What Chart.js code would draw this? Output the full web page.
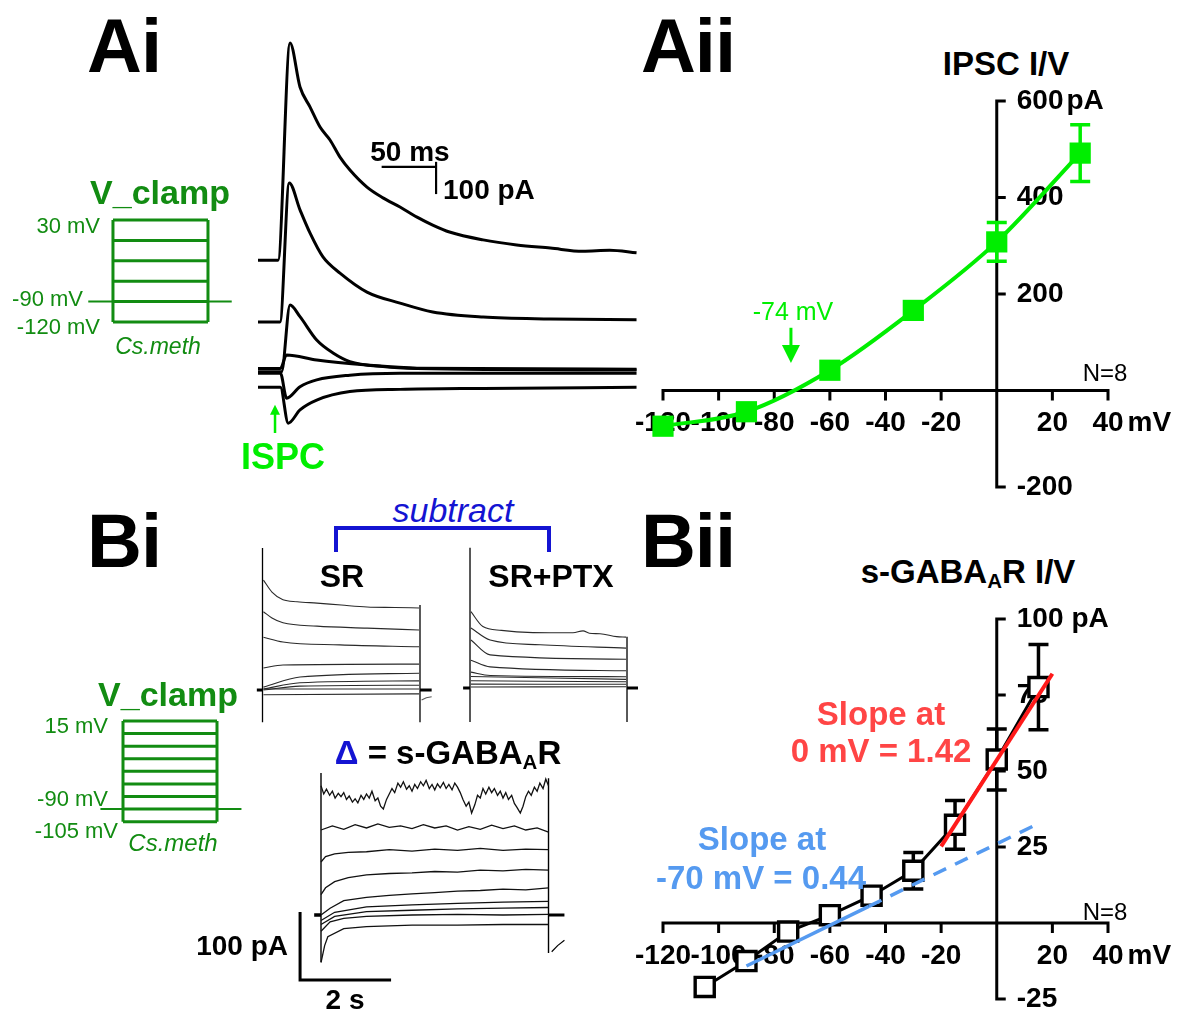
<!DOCTYPE html>
<html>
<head>
<meta charset="utf-8">
<script src="https://cdn.jsdelivr.net/npm/chart.js@4.4.1/dist/chart.umd.min.js"></script>
<style>
  body { margin: 0; background: #fff; width: 1182px; height: 1016px; position: relative; overflow: hidden;
         font-family: "Liberation Sans", Arial, sans-serif; }
  canvas { position: absolute; }
  .t { position: absolute; white-space: nowrap; line-height: 1; }
  .c { transform: translate(-50%, -50%); }
  .r { transform: translate(-100%, -50%); }
  .l { transform: translate(0, -50%); }
  .big { font-weight: bold; font-size: 76px; letter-spacing: -1px; }
  .b { font-weight: bold; }
  .grn { color: #128c12; }
  sub { font-size: 62%; vertical-align: -0.25em; }
</style>
</head>
<body>
<canvas id="ai" width="381" height="405" style="left:258px;top:35px"></canvas>
<canvas id="protA" width="160" height="125" style="left:80px;top:210px"></canvas>
<canvas id="aii" width="550" height="420" style="left:630px;top:85px"></canvas>
<canvas id="sr" width="190" height="190" style="left:250px;top:540px"></canvas>
<canvas id="ptx" width="190" height="190" style="left:455px;top:540px"></canvas>
<canvas id="delta" width="300" height="225" style="left:280px;top:765px"></canvas>
<canvas id="protB" width="160" height="120" style="left:90px;top:712px"></canvas>
<canvas id="bii" width="550" height="416" style="left:630px;top:600px"></canvas>

<div class="t c big" style="left:124px;top:46px">Ai</div>
<div class="t c big" style="left:688px;top:46px">Aii</div>
<div class="t c big" style="left:124px;top:541px">Bi</div>
<div class="t c big" style="left:688px;top:541px">Bii</div>

<div class="t c b grn" style="left:160px;top:192px;font-size:34px">V_clamp</div>
<div class="t r grn" style="left:100px;top:226px;font-size:22px">30 mV</div>
<div class="t r grn" style="left:83px;top:299px;font-size:22px">-90 mV</div>
<div class="t r grn" style="left:100px;top:327px;font-size:22px">-120 mV</div>
<div class="t c grn" style="left:158px;top:346px;font-size:23px;font-style:italic">Cs.meth</div>
<div class="t c b" style="left:410px;top:152px;font-size:28px">50 ms</div>
<div class="t l b" style="left:443px;top:190px;font-size:28px">100 pA</div>
<div class="t c b" style="left:283px;top:457px;font-size:36px;color:#00ee00">ISPC</div>

<div class="t c b" style="left:1006px;top:63px;font-size:33px">IPSC I/V</div>
<div class="t c" style="left:793px;top:311px;font-size:25px;color:#00ee00">-74 mV</div>
<div class="t c" style="left:1105px;top:373px;font-size:24px">N=8</div>

<div class="t c" style="left:453px;top:510px;font-size:34px;font-style:italic;color:#1414d2">subtract</div>
<div class="t c b" style="left:342px;top:576px;font-size:32px">SR</div>
<div class="t c b" style="left:551px;top:576px;font-size:32px">SR+PTX</div>
<div class="t c b" style="left:448px;top:754px;font-size:33px"><span style="color:#1414d2">&Delta;</span> = s-GABA<sub>A</sub>R</div>
<div class="t r b" style="left:288px;top:946px;font-size:28px">100 pA</div>
<div class="t c b" style="left:345px;top:1000px;font-size:28px">2 s</div>

<div class="t c b grn" style="left:168px;top:694px;font-size:34px">V_clamp</div>
<div class="t r grn" style="left:108px;top:726px;font-size:22px">15 mV</div>
<div class="t r grn" style="left:108px;top:799px;font-size:22px">-90 mV</div>
<div class="t r grn" style="left:118px;top:831px;font-size:22px">-105 mV</div>
<div class="t c grn" style="left:173px;top:843px;font-size:24px;font-style:italic">Cs.meth</div>

<div class="t c b" style="left:968px;top:573px;font-size:33px">s-GABA<sub>A</sub>R I/V</div>
<div class="t c b" style="left:881px;top:713px;font-size:33px;color:#ff4545">Slope at</div>
<div class="t c b" style="left:881px;top:750px;font-size:33px;color:#ff4545">0 mV = 1.42</div>
<div class="t c b" style="left:762px;top:838px;font-size:33px;color:#559af0">Slope at</div>
<div class="t c b" style="left:761px;top:877px;font-size:33px;color:#559af0">-70 mV = 0.44</div>
<div class="t c" style="left:1105px;top:912px;font-size:24px">N=8</div>

<script>
// ---------- Aii: IPSC I/V (mean +- SEM) ----------
const ipscV = [-120, -90, -60, -30, 0, 30];
const ipscI = [-74, -44, 42, 166, 308, 492];
const ipscSem = [0, 0, 0, 14, 40, 59];
const ipscXTicks = [-120, -100, -80, -60, -40, -20, 20, 40];
const ipscYTicks = [600, 400, 200, -200];
const ipscErev = -74;

// ---------- Bii: s-GABAAR I/V ----------
const gabaV = [-105, -90, -75, -60, -45, -30, -15, 0, 15];
const gabaI = [-21, -12.5, -2.8, 2.6, 9, 17.2, 32.3, 53.8, 77.6];
const gabaSem = [0, 0, 0, 0, 0, 6, 8, 10, 14];
const gabaXTicks = [-120, -100, -80, -60, -40, -20, 20, 40];
const gabaYTicks = [100, 75, 50, 25, -25];
const slope0V = [-20, 20];
const slope0I = [25.2, 82];
const slope70V = [-90, -46];
const slope70I = [-14.1, 5.5];
const slope70ExtV = [-46, 14];
const slope70ExtI = [5.5, 32.3];

// ---------- Ai: example IPSCs, [ms, pA] ----------
const ipsc30 = [[0,411],[17.9,411],[28.6,1098],[37.5,959],[46.4,896],[55.4,832],[64.3,791],[73.2,737],[82.1,696],[97.3,642],[111.6,608],[126.8,579],[142,547],[156,522],[171,500],[201,475],[231,459],[261,449],[290,439],[314,442],[338,434]];
const ipsc0 = [[0,215],[19.6,215],[27.9,655],[37.5,570],[46.4,497],[58,421],[73.2,370],[97.3,310],[126.8,275],[156,247],[201,231],[261,225],[338,222]];
const ipscM30 = [[0,58],[21,58],[28.6,269],[37.5,232],[52.4,158],[67,117],[82,90],[111.6,74],[142,68],[338,63]];
const ipscM60 = [[0,68],[20,68],[25.5,111],[52.4,95],[97.3,79],[142,69],[338,66]];
const ipscM90 = [[0,53],[20,53],[25.6,-26],[37.5,10],[52.4,32],[82,47],[126.8,53],[338,53]];
const ipscM120 = [[0,8.5],[20,8.5],[27,-105],[37.5,-63],[52.4,-32],[82,-5],[126.8,2],[201,5],[338,8.5]];

// ---------- Bi: SR and SR+PTX step currents, [s, pA] ----------
const srTraces = [
  [[0.03,229],[0.3,204],[0.65,188],[1.1,184],[1.73,181],[2.5,177],[3.32,173],[4.2,172],[4.97,171]],
  [[0.03,163],[0.3,150],[0.65,140],[1.73,133],[3.32,129],[4.97,125]],
  [[0.03,110],[0.65,100],[2.46,94],[4.97,90]],
  [[0.03,46],[0.65,52],[4.97,54]],
  [[0.03,6],[1.19,27],[4.97,35]],
  [[0.03,2],[1.19,15],[4.97,19]],
  [[0.03,0],[1.19,8],[4.97,10]],
  [[0.03,2],[4.97,2]],
  [[0.03,-10],[4.97,-8]]
];
const srHold = [[-0.18,0],[0,0]];
const srPost = [[5,0],[5.37,0]];
const srOn = [[0,296],[0,-67]];
const srOff = [[5,177],[5,-67]];
const srTail = [[5.05,-21],[5.2,-16],[5.37,-14]];

const ptxTraces = [
  [[0.03,159],[0.41,128],[1.0,120],[1.49,117],[2.55,115],[3.28,115],[3.6,119],[3.8,114],[4.14,113],[4.67,107],[4.97,106]],
  [[0.03,125],[0.64,100],[2.23,90],[4.97,83]],
  [[0.03,100],[0.64,69],[4.97,60]],
  [[0.03,58],[0.64,44],[4.97,36]],
  [[0.03,33],[0.64,26],[4.97,23.5]],
  [[0.03,24],[4.97,18]],
  [[0.03,15],[4.97,13]],
  [[0.03,8],[4.97,7.7]],
  [[0.03,2],[4.97,2.7]]
];
const ptxHold = [[-0.22,0],[0,0]];
const ptxPost = [[5,0],[5.35,0]];
const ptxOn = [[0,292],[0,-71]];
const ptxOff = [[5,107],[5,-71]];

// ---------- Bi: difference = s-GABAAR current, [s, pA] ----------
const deltaTraces = [
  [[0,190],[0.06,178],[0.12,185],[0.19,176],[0.25,182],[0.31,172],[0.38,179],[0.44,174],[0.5,180],[0.56,170],[0.62,175],[0.69,166],[0.75,171],[0.81,165],[0.88,176],[0.94,170],[1.0,178],[1.06,172],[1.12,182],[1.19,168],[1.25,172],[1.31,160],[1.37,156],[1.44,170],[1.5,178],[1.56,186],[1.62,180],[1.69,194],[1.75,188],[1.81,196],[1.88,185],[1.94,190],[2.0,182],[2.06,192],[2.12,186],[2.19,196],[2.25,190],[2.31,198],[2.38,186],[2.44,192],[2.5,184],[2.56,193],[2.62,187],[2.69,195],[2.75,186],[2.81,192],[2.88,184],[2.94,194],[3.0,188],[3.06,180],[3.12,170],[3.19,160],[3.25,166],[3.31,150],[3.38,162],[3.44,176],[3.5,172],[3.56,186],[3.62,178],[3.69,188],[3.75,180],[3.81,186],[3.88,176],[3.94,182],[4.0,172],[4.06,180],[4.12,170],[4.19,176],[4.25,164],[4.31,158],[4.38,150],[4.44,160],[4.5,174],[4.56,182],[4.62,176],[4.69,188],[4.75,182],[4.81,194],[4.88,186],[4.94,200],[5.0,190]],
  [[0,125],[0.25,131],[0.5,126],[0.75,133],[1.0,128],[1.25,134],[1.5,129],[1.75,131],[2.0,127],[2.25,133],[2.5,128],[2.75,131],[3.0,125],[3.25,130],[3.5,126],[3.75,132],[4.0,127],[4.25,131],[4.5,125],[4.75,128],[5.0,122]],
  [[0,78],[0.1,86],[0.3,90],[0.6,92],[1.0,93],[1.5,96],[2.0,94],[2.5,97],[3.0,95],[3.5,98],[4.0,95],[4.5,97],[5.0,96]],
  [[0,30],[0.1,40],[0.3,49],[0.6,55],[1.0,59],[1.5,61],[2.0,62],[2.5,64],[3.0,63],[3.5,66],[4.0,65],[4.5,67],[5.0,66]],
  [[0,0],[0.2,10],[0.5,21],[1.0,26],[1.5,29],[2.0,31],[2.5,33],[3.0,35],[3.5,36],[4.0,38],[4.5,37],[5.0,40]],
  [[0,-8],[0.3,4],[1.0,12],[2.0,15],[3.0,17],[4.0,19],[5.0,20]],
  [[0,-14],[0.3,-2],[1.0,5],[2.0,7],[3.0,9],[4.0,10],[5.0,11]],
  [[0,-24],[0.2,-10],[0.5,-5],[1.0,-2],[2.0,0],[3.0,1],[4.0,0],[5.0,1]],
  [[0,-70],[0.08,-45],[0.15,-32],[0.5,-20],[1.0,-17],[2.0,-15],[3.0,-15],[4.0,-14],[5.0,-14]]
];
const deltaHold = [[-0.15,0],[0,0]];
const deltaPost = [[5,0],[5.35,0]];
const deltaOn = [[0,209],[0,-69]];
const deltaOff = [[5,201],[5,-56]];
const deltaTail = [[5.07,-54],[5.2,-45],[5.35,-37]];

// ---------- voltage protocols (mV) ----------
const stepsA = [30, 0, -30, -60, -90, -120];
const holdA = -90;
const holdSpanA = [-0.26, 1.25];
const stepsB = [15, 0, -15, -30, -45, -60, -75, -90, -105];
const holdB = -90;
const holdSpanB = [-0.24, 1.26];

const FONT = '"Liberation Sans", Arial, sans-serif';
const GREEN = '#00ee00';
const DKGREEN = '#128c12';

const pts = arr => arr.map(p => ({x: p[0], y: p[1]}));
const zip = (xs, ys) => xs.map((v, k) => ({x: v, y: ys[k]}));

// scale bars / arrows for trace panels
const decoPlugin = {
  id: 'deco',
  afterDatasetsDraw(chart, args, o) {
    const {ctx, scales: {x, y}} = chart;
    ctx.save();
    (o.lines || []).forEach(l => {
      ctx.strokeStyle = l.color || '#000';
      ctx.lineWidth = l.w;
      ctx.beginPath();
      l.pts.forEach((p, k) => {
        const px = x.getPixelForValue(p[0]), py = y.getPixelForValue(p[1]);
        if (k) ctx.lineTo(px, py); else ctx.moveTo(px, py);
      });
      ctx.stroke();
    });
    if (o.arrow) {
      const a = o.arrow;
      const ax = x.getPixelForValue(a.t), y1 = y.getPixelForValue(a.from), y2 = y.getPixelForValue(a.to);
      ctx.strokeStyle = ctx.fillStyle = a.color;
      ctx.lineWidth = 2.5;
      ctx.beginPath(); ctx.moveTo(ax, y1); ctx.lineTo(ax, y2 + 8); ctx.stroke();
      ctx.beginPath(); ctx.moveTo(ax - 5, y2 + 10); ctx.lineTo(ax + 5, y2 + 10); ctx.lineTo(ax, y2); ctx.fill();
    }
    ctx.restore();
  }
};

function traceChart(id, xr, yr, sets, deco) {
  return new Chart(document.getElementById(id), {
    type: 'scatter',
    data: {
      datasets: sets.map(s => ({
        data: pts(s.d), showLine: true, pointRadius: 0,
        borderColor: s.c || '#000', borderWidth: s.w || 1.2,
        cubicInterpolationMode: s.smooth ? 'monotone' : 'default', tension: 0, clip: false
      }))
    },
    options: {
      responsive: false, animation: false, devicePixelRatio: 1,
      layout: {padding: 0},
      plugins: {legend: {display: false}, tooltip: {enabled: false}, deco: deco || {}},
      scales: {
        x: {type: 'linear', display: false, min: xr[0], max: xr[1]},
        y: {type: 'linear', display: false, min: yr[0], max: yr[1]}
      }
    },
    plugins: [decoPlugin]
  });
}

// Ai traces
traceChart('ai', [0, 340.2], [-158.2, 1123.4],
  [ipsc30, ipsc0, ipscM30, ipscM60, ipscM90, ipscM120].map(d => ({d, w: 3, smooth: true})),
  {
    lines: [
      {w: 2.2, pts: [[110.4, 706], [159, 706]]},
      {w: 2.2, pts: [[159, 722], [159, 620]]}
    ],
    arrow: {t: 15.2, from: -136, to: -47, color: GREEN}
  });

// SR / SR+PTX
const thin = d => ({d, w: 1.1, c: '#2a2a2a', smooth: true});
traceChart('sr', [-0.397, 5.635], [-83.3, 312.5],
  [...srTraces.map(thin), {d: srHold, w: 3}, {d: srPost, w: 3}, {d: srOn, w: 1.3}, {d: srOff, w: 1.3}, {d: srTail, w: 1.1, c: '#555'}]);
traceChart('ptx', [-0.478, 5.573], [-87.5, 308.3],
  [...ptxTraces.map(thin), {d: ptxHold, w: 3}, {d: ptxPost, w: 3}, {d: ptxOn, w: 1.3}, {d: ptxOff, w: 1.3}]);

// difference traces with scale bar
traceChart('delta', [-0.901, 5.692], [-110.3, 220.6],
  [...deltaTraces.map(d => ({d, w: 1.3, c: '#111'})), {d: deltaHold, w: 3.5}, {d: deltaPost, w: 3}, {d: deltaOn, w: 1.4}, {d: deltaOff, w: 1.4}, {d: deltaTail, w: 1.2}],
  {lines: [{w: 3, pts: [[-0.46, 4.4], [-0.46, -95.6], [1.54, -95.6]]}]});

// voltage protocols
function protocol(id, xr, yr, steps, hold, span) {
  const top = steps[0], bot = steps[steps.length - 1];
  const sets = steps.map(v => ({d: [[0, v], [1, v]], w: 3, c: DKGREEN}));
  sets.push({d: [[0, top], [0, bot]], w: 3, c: DKGREEN});
  sets.push({d: [[1, top], [1, bot]], w: 3, c: DKGREEN});
  sets.push({d: [[span[0], hold], [span[1], hold]], w: 2, c: DKGREEN});
  traceChart(id, xr, yr, sets);
}
protocol('protA', [-0.347, 1.337], [-139.1, 44.7], stepsA, holdA, holdSpanA);
protocol('protB', [-0.351, 1.351], [-117.3, 25.7], stepsB, holdB, holdSpanB);

// I/V axes crossing at the origin, ticks, labels and SEM bars
const ivPlugin = {
  id: 'iv',
  beforeDatasetsDraw(chart, args, o) {
    const {ctx, scales: {x, y}} = chart;
    const X = v => x.getPixelForValue(v), Y = v => y.getPixelForValue(v);
    ctx.save();
    ctx.strokeStyle = '#000';
    ctx.lineWidth = 3;
    ctx.beginPath();
    ctx.moveTo(X(x.min) - 1.5, Y(0)); ctx.lineTo(X(x.max) + 1.5, Y(0));
    ctx.moveTo(X(0), Y(y.min) + 1.5); ctx.lineTo(X(0), Y(y.max) - 1.5);
    o.xTicks.forEach(v => { ctx.moveTo(X(v), Y(0)); ctx.lineTo(X(v), Y(0) + 10); });
    o.yTicks.forEach(v => { ctx.moveTo(X(0), Y(v)); ctx.lineTo(X(0) + 9, Y(v)); });
    ctx.stroke();

    ctx.fillStyle = '#000';
    ctx.font = 'bold 28px ' + FONT;
    ctx.textBaseline = 'middle';
    ctx.textAlign = 'center';
    o.xTicks.forEach(v => ctx.fillText(String(v), X(v), Y(0) + 33));
    ctx.textAlign = 'left';
    o.yTicks.forEach(v => ctx.fillText(String(v), X(0) + 20, Y(v)));
    const topT = o.yTicks[0];
    ctx.fillText('pA', X(0) + 20 + ctx.measureText(String(topT)).width + o.unitGap, Y(topT));
    const lastT = o.xTicks[o.xTicks.length - 1];
    ctx.fillText('mV', X(lastT) + ctx.measureText(String(lastT)).width / 2 + 4, Y(0) + 33);

    ctx.strokeStyle = o.errColor;
    ctx.lineWidth = 3.5;
    ctx.beginPath();
    o.v.forEach((v, k) => {
      const e = o.err[k];
      if (!e) return;
      const px = X(v), hi = Y(o.i[k] + e), lo = Y(o.i[k] - e);
      ctx.moveTo(px, hi); ctx.lineTo(px, lo);
      ctx.moveTo(px - 10, hi); ctx.lineTo(px + 10, hi);
      ctx.moveTo(px - 10, lo); ctx.lineTo(px + 10, lo);
    });
    ctx.stroke();

    if (o.arrow) {
      const a = o.arrow, ax = X(a.v), y1 = Y(a.from), y2 = Y(a.to);
      ctx.strokeStyle = ctx.fillStyle = a.color;
      ctx.lineWidth = 3;
      ctx.beginPath(); ctx.moveTo(ax, y1); ctx.lineTo(ax, y2 - 12); ctx.stroke();
      ctx.beginPath(); ctx.moveTo(ax - 9, y2 - 18); ctx.lineTo(ax + 9, y2 - 18); ctx.lineTo(ax, y2); ctx.fill();
    }
    ctx.restore();
  }
};

function ivOptions(yr, pad, extra) {
  return {
    responsive: false, animation: false, devicePixelRatio: 1,
    layout: {padding: pad},
    plugins: {legend: {display: false}, tooltip: {enabled: false}, iv: extra},
    scales: {
      x: {type: 'linear', display: false, min: -120, max: 40},
      y: {type: 'linear', display: false, min: yr[0], max: yr[1]}
    }
  };
}

new Chart(document.getElementById('aii'), {
  type: 'scatter',
  data: {
    datasets: [{
      data: zip(ipscV, ipscI), showLine: true, clip: false,
      borderColor: GREEN, borderWidth: 4, cubicInterpolationMode: 'monotone',
      pointStyle: 'rect', pointRadius: 15, pointBackgroundColor: GREEN, pointBorderWidth: 0
    }]
  },
  options: ivOptions([-200, 600], {left: 33, right: 72, top: 16, bottom: 18}, {
    xTicks: ipscXTicks, yTicks: ipscYTicks, unitGap: 3,
    v: ipscV, i: ipscI, err: ipscSem, errColor: GREEN,
    arrow: {v: ipscErev, from: 130, to: 57, color: GREEN}
  }),
  plugins: [ivPlugin]
});

new Chart(document.getElementById('bii'), {
  type: 'scatter',
  data: {
    datasets: [
      {data: zip(slope0V, slope0I), showLine: true, clip: false, borderColor: '#ff1a1a', borderWidth: 4, pointRadius: 0},
      {data: zip(slope70V, slope70I), showLine: true, clip: false, borderColor: '#559af0', borderWidth: 3.5, pointRadius: 0},
      {data: zip(slope70ExtV, slope70ExtI), showLine: true, clip: false, borderColor: '#559af0', borderWidth: 3.5, borderDash: [14, 10], pointRadius: 0},
      {
        data: zip(gabaV, gabaI), showLine: true, clip: false, borderColor: '#000', borderWidth: 3,
        pointStyle: 'rect', pointRadius: 13.5, pointBackgroundColor: '#fff', pointBorderColor: '#000', pointBorderWidth: 3.4
      }
    ]
  },
  options: ivOptions([-25, 100], {left: 33, right: 72, top: 19, bottom: 8}, {
    xTicks: gabaXTicks, yTicks: gabaYTicks, unitGap: 8,
    v: gabaV, i: gabaI, err: gabaSem, errColor: '#000'
  }),
  plugins: [ivPlugin]
});

// blue "subtract" bracket
const br = document.createElement('canvas');
br.width = 230; br.height = 40;
br.style.left = '328px'; br.style.top = '522px';
document.body.appendChild(br);
const bctx = br.getContext('2d');
bctx.strokeStyle = '#1414d2'; bctx.lineWidth = 4;
bctx.beginPath(); bctx.moveTo(8, 30); bctx.lineTo(8, 6); bctx.lineTo(221, 6); bctx.lineTo(221, 30); bctx.stroke();
</script>
</body>
</html>
